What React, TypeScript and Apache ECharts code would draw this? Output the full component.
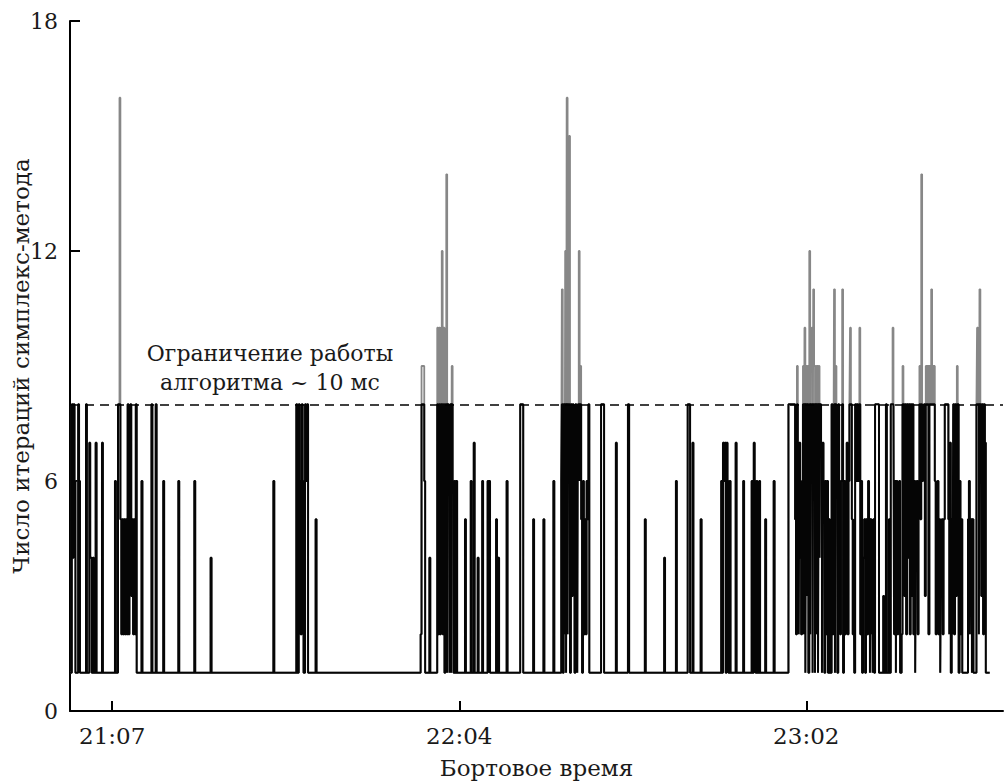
import { useEffect, useRef } from "react";
import * as echarts from "echarts";

// Change points of the iteration count: [minutes after 21:00, raw iteration count]
// The value holds until the next change point.
const seg2100: number[][] = [
  [0, 1], [0.3, 8], [0.45, 4], [0.6, 8], [0.75, 6], [0.9, 1],
  [1.35, 8], [1.5, 6], [1.65, 1],
  [2.65, 8], [2.8, 1],
  [3.2, 7], [3.35, 4], [3.6, 1], [3.8, 4], [3.95, 1], [4.25, 7], [4.4, 1],
  [5.3, 7], [5.45, 1],
  [7.45, 6], [7.6, 1],
  [7.95, 8], [8.2, 16], [8.35, 5], [8.5, 2], [8.65, 5], [8.8, 2], [8.95, 5], [9.1, 2],
  [9.25, 5], [9.4, 2], [9.55, 8], [9.7, 2], [9.85, 5], [10.0, 8], [10.15, 3], [10.3, 5],
  [10.45, 2], [10.6, 5], [10.75, 2], [10.9, 8], [11.05, 1],
];

const seg2112: number[][] = [
  [11.85, 6], [12.0, 1],
  [13.5, 8], [13.65, 1],
  [14.2, 8], [14.35, 1],
  [15.45, 6], [15.6, 1],
  [17.95, 6], [18.1, 1],
  [20.6, 6], [20.75, 1],
  [23.3, 4], [23.45, 1],
  [33.7, 6], [33.85, 1],
  [37.5, 8], [37.65, 1], [37.9, 8], [38.05, 6], [38.2, 2], [38.4, 8], [38.55, 6], [38.7, 1],
  [38.95, 8], [39.1, 6], [39.3, 8], [39.45, 1],
  [40.7, 5], [40.85, 1],
];

const seg2158: number[][] = [
  [58.1, 2], [58.25, 9], [58.7, 6], [58.85, 1],
  [59.55, 4], [59.7, 1],
  [60.85, 10], [61.0, 2], [61.15, 10], [61.3, 2], [61.45, 10], [61.6, 12], [61.75, 2],
  [61.9, 10], [62.05, 1], [62.2, 8], [62.35, 14], [62.5, 1], [62.6, 8], [62.75, 6],
  [62.9, 1], [63.0, 8], [63.15, 1], [63.25, 9], [63.4, 6], [63.55, 1], [63.7, 6],
  [63.85, 1], [64.0, 6], [64.15, 1],
  [65.45, 5], [65.6, 1],
  [66.4, 6], [66.55, 1], [66.9, 7], [67.05, 1],
  [67.55, 4], [67.7, 1],
  [68.3, 6], [68.45, 1],
  [69.2, 6], [69.35, 1], [69.45, 6], [69.6, 1],
  [70.6, 5], [70.75, 1], [70.95, 4], [71.1, 1],
  [72.35, 6], [72.5, 1],
];

const seg2214: number[][] = [
  [74.6, 8], [75.1, 1],
  [76.75, 5], [76.9, 1],
  [78.45, 5], [78.6, 1],
  [80.1, 6], [80.25, 1],
  [81.4, 6], [81.5, 11], [81.65, 1], [81.8, 8], [81.95, 2], [82.05, 12], [82.2, 1],
  [82.3, 16], [82.45, 2], [82.55, 8], [82.7, 15], [82.85, 1], [83.0, 8], [83.15, 3],
  [83.3, 8], [83.45, 7], [83.6, 1], [83.75, 8], [83.9, 6], [84.05, 1], [84.15, 8],
  [84.3, 12], [84.45, 6], [84.55, 9], [84.7, 5], [84.85, 1], [85.0, 6], [85.15, 2],
  [85.3, 5], [85.45, 2], [85.6, 6], [85.75, 5], [85.9, 8], [86.05, 1],
  [88.0, 8], [88.5, 1],
  [90.45, 7], [90.6, 1],
  [92.45, 8], [92.65, 1],
  [95.25, 5], [95.4, 1],
  [98.45, 4], [98.6, 1],
  [100.4, 6], [100.55, 1],
];

const seg2242: number[][] = [
  [102.35, 8], [102.75, 1],
  [103.15, 7], [103.3, 1],
  [104.5, 5], [104.65, 1],
  [107.9, 6], [108.05, 1], [108.2, 7], [108.35, 6], [108.5, 7], [108.65, 1],
  [108.8, 7], [108.95, 6], [109.1, 1], [109.3, 6], [109.45, 1],
  [110.3, 7], [110.45, 1],
  [111.55, 6], [111.7, 1],
  [112.95, 6], [113.1, 1], [113.3, 7], [113.45, 6], [113.6, 1], [113.75, 6], [113.9, 1],
  [114.2, 6], [114.35, 1],
  [115.2, 5], [115.35, 1],
  [116.6, 6], [116.75, 1],
];

const seg2259: number[][] = [
  [119.05, 8], [120.15, 5], [120.3, 2], [120.45, 9], [120.6, 4], [120.75, 2], [120.85, 7],
  [121.0, 4], [121.15, 2], [121.3, 6],
  [121.45, 9], [121.6, 2], [121.7, 10], [121.85, 1], [121.95, 9], [122.1, 3], [122.2, 9],
  [122.35, 1], [122.5, 12], [122.65, 2], [122.75, 9], [122.9, 10], [123.05, 1], [123.15, 11],
  [123.3, 9], [123.45, 1], [123.55, 9], [123.7, 2], [123.8, 9], [123.95, 1], [124.05, 9],
  [124.2, 4], [124.3, 8], [124.45, 7], [124.6, 1], [124.7, 7], [124.85, 6], [125.0, 1],
  [125.15, 6], [125.3, 2], [125.45, 6], [125.6, 1], [125.75, 5], [125.9, 1],
  [126.2, 8], [126.35, 2], [126.5, 6], [126.6, 11], [126.75, 1], [126.85, 9], [127.0, 6],
  [127.15, 1], [127.3, 8], [127.45, 6], [127.6, 2], [127.75, 6], [127.95, 11], [128.1, 1],
  [128.25, 6], [128.4, 2], [128.55, 6], [128.7, 7], [128.85, 2], [129.0, 6],
  [129.15, 8], [129.25, 10], [129.4, 8], [129.55, 5], [129.7, 2], [129.85, 5], [129.95, 1],
  [130.1, 8], [130.3, 6], [130.45, 8], [130.6, 6], [130.8, 10], [130.95, 2], [131.1, 6],
  [131.25, 1], [131.4, 4],
  [131.6, 5], [131.75, 1], [131.9, 5], [132.05, 2], [132.25, 6], [132.4, 5], [132.55, 1],
  [132.65, 5], [132.8, 2], [132.9, 5], [133.0, 1], [133.1, 5], [133.25, 1],
  [133.4, 8], [134.05, 1],
];

const seg2314: number[][] = [
  [134.75, 3], [134.9, 1], [135.2, 8], [135.35, 1],
  [135.7, 5], [135.85, 1],
  [136.0, 8], [136.3, 10], [136.45, 8], [136.55, 2], [136.7, 6], [136.85, 1],
  [136.95, 6], [137.1, 2], [137.25, 5], [137.4, 6], [137.55, 1],
  [137.8, 2], [137.95, 9], [138.1, 8], [138.25, 3], [138.4, 8], [138.55, 2], [138.7, 8],
  [138.85, 4], [139.0, 8], [139.15, 2], [139.3, 8], [139.45, 3], [139.6, 8], [139.75, 2],
  [139.9, 6], [140.05, 1], [140.15, 5],
  [140.3, 6], [140.45, 2], [140.6, 6], [140.75, 9], [140.9, 5], [141.05, 14], [141.2, 6],
  [141.35, 7], [141.5, 8], [141.65, 3], [141.8, 9], [141.95, 8], [142.1, 9], [142.25, 2],
  [142.4, 9], [142.55, 8], [142.7, 11], [142.85, 9], [143.0, 8], [143.15, 9], [143.3, 6],
  [143.45, 2], [143.6, 5], [143.75, 6], [143.9, 2], [144.05, 5], [144.2, 1], [144.3, 4],
  [144.45, 5], [144.6, 2], [144.75, 5], [144.95, 8], [145.55, 5], [145.7, 2], [145.8, 7], [145.95, 1],
  [146.1, 5], [146.25, 2],
  [146.35, 8], [146.5, 2], [146.65, 8], [146.8, 3], [146.95, 9], [147.1, 8], [147.25, 1],
  [147.4, 6], [147.55, 2], [147.7, 5], [147.85, 1],
  [148.8, 5], [148.95, 6], [149.1, 2], [149.2, 5], [149.3, 5], [149.45, 1], [149.55, 5], [149.7, 1],
  [150.2, 8], [150.3, 10], [150.45, 8], [150.6, 2], [150.7, 11], [150.85, 8], [151.0, 3],
  [151.15, 8], [151.3, 2], [151.45, 8], [151.6, 7], [151.75, 1],
  [152.4, 1],
];

const ITER_LIMIT = 8;
const xTickMinutes = [7, 64.5, 122];
const xTickLabels = ["21:07", "22:04", "23:02"];
const yTicks = [0, 6, 12, 18];
const limitText = ["Ограничение работы", "алгоритма ~ 10 мс"];
const xTitle = "Бортовое время";
const yTitle = "Число итераций симплекс-метода";

const FONT = "DejaVu Serif";
const INK = "#1a1a1a";

export default function App() {
  const ref = useRef<HTMLDivElement>(null);
  useEffect(() => {
    const chart = echarts.init(ref.current!, null, { renderer: "svg" });
    const raw = [...seg2100, ...seg2112, ...seg2158, ...seg2214, ...seg2242, ...seg2259, ...seg2314];
    const capped = raw.map(([t, v]) => [t, Math.min(v, ITER_LIMIT)]);
    const txt = (text: string, size: number) => ({
      text,
      fontSize: size,
      fontFamily: FONT,
      fill: INK,
      align: "center",
      verticalAlign: "middle",
    });
    chart.setOption({
      animation: false,
      grid: { left: 70, right: 3, top: 21, bottom: 70, containLabel: false },
      xAxis: {
        type: "value",
        min: 0,
        max: 154.6,
        axisLine: { show: true, lineStyle: { color: "#000", width: 2 } },
        axisTick: {
          show: true,
          inside: true,
          length: 10,
          customValues: xTickMinutes,
          lineStyle: { color: "#000", width: 2 },
        },
        axisLabel: {
          customValues: xTickMinutes,
          formatter: (v: number) => {
            const i = xTickMinutes.indexOf(v);
            return i >= 0 ? xTickLabels[i] : "";
          },
          fontSize: 23,
          fontFamily: FONT,
          color: INK,
          margin: 13,
        },
        splitLine: { show: false },
        name: xTitle,
        nameLocation: "middle",
        nameGap: 45,
        nameTextStyle: { fontSize: 23, fontFamily: FONT, color: INK },
      },
      yAxis: {
        type: "value",
        min: yTicks[0],
        max: yTicks[yTicks.length - 1],
        interval: yTicks[1] - yTicks[0],
        axisLine: { show: true, lineStyle: { color: "#000", width: 2 } },
        axisTick: { show: true, inside: true, length: 10, lineStyle: { color: "#000", width: 2 } },
        axisLabel: { fontSize: 22, fontFamily: FONT, color: INK, margin: 12 },
        splitLine: { show: false },
      },
      graphic: [
        {
          type: "text",
          rotation: Math.PI / 2,
          x: 21,
          y: 366,
          style: txt(yTitle, 23),
        },
        { type: "text", x: 270, y: 353, style: txt(limitText[0], 22) },
        { type: "text", x: 270, y: 382, style: txt(limitText[1], 22) },
      ],
      series: [
        {
          type: "line",
          step: "end",
          data: raw,
          symbol: "none",
          silent: true,
          z: 2,
          lineStyle: { color: "#878787", width: 1.8 },
        },
        {
          type: "line",
          step: "end",
          data: capped,
          symbol: "none",
          silent: true,
          z: 3,
          lineStyle: { color: "#050505", width: 2 },
          markLine: {
            silent: true,
            symbol: ["none", "none"],
            label: { show: false },
            lineStyle: { color: "#000", type: [9, 6], width: 1.5 },
            data: [{ yAxis: ITER_LIMIT }],
          },
        },
      ],
    });
    return () => chart.dispose();
  }, []);
  return (
    <div
      ref={ref}
      style={{ position: "fixed", left: 0, top: 0, width: 1006, height: 784, background: "#fff" }}
    />
  );
}
